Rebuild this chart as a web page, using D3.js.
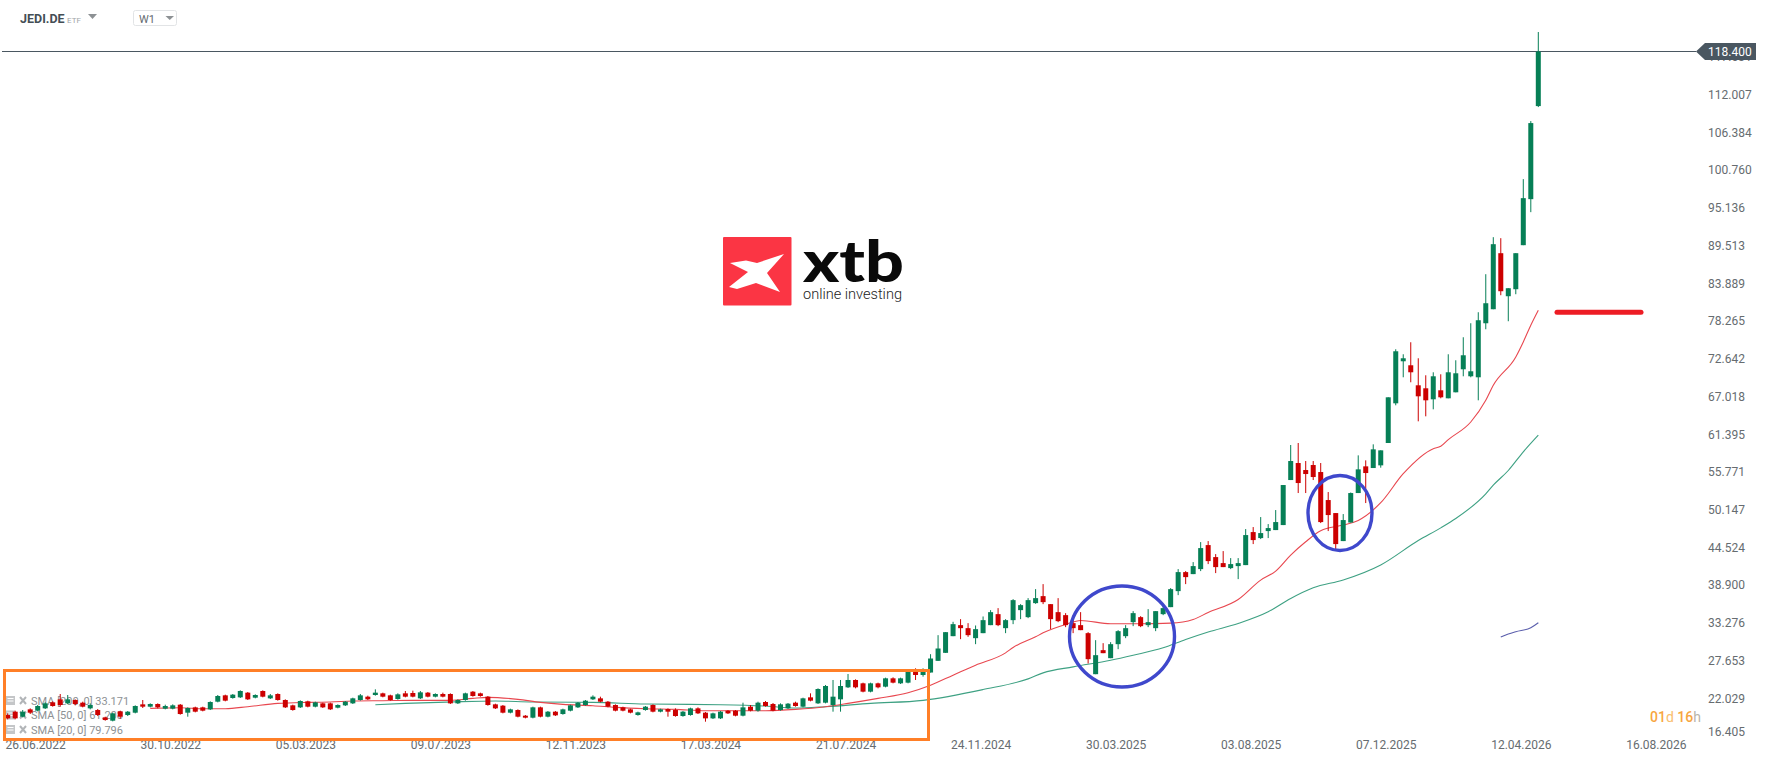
<!DOCTYPE html>
<html><head><meta charset="utf-8">
<script src="https://cdn.jsdelivr.net/npm/d3@7"></script>
<style>
html,body{margin:0;padding:0;background:#fff;overflow:hidden}
svg{display:block}
text{font-family:Roboto,"Noto Sans",sans-serif}
</style></head><body>
<script>
const symbol="JEDI.DE", symbolType="ETF", interval="W1";
const firstWeek="2022-06-05", lastWeek="2026-05-03";
const opens=[18.95,19.45,18.7,19.8,19.6,19.95,20.85,21.3,20.7,21.2,20.8,19.95,19.7,18.6,18.1,19.5,18.95,19.3,20.55,20.2,20.6,19.9,19.9,20.5,19.3,20.1,20.1,19.8,20.95,21.9,21.5,21.6,22.3,21.55,22.55,21.45,22.1,21.2,20.4,20.1,21,20.2,20.7,20.7,20.05,20.4,20.7,21.2,21.7,21.95,22.2,21.9,21.35,22.2,22.25,21.45,22.3,21.7,22.1,22.1,20.7,21.2,22.45,22.2,21.7,20.55,20.35,19.3,19.7,18.85,18.55,20.1,18.7,19.45,19.1,19.6,20.1,20.45,21.3,21.45,20.95,20.45,20.1,19.8,18.95,19.7,20.45,19.45,19.85,19.7,18.8,18.95,19.95,19.3,18.45,18.45,19.6,19.6,18.85,20.2,19.6,20.9,20.6,19.7,19.95,20.8,20.2,21.6,20.7,20.8,20.45,21.3,23.1,24.2,23.7,22.45,23.7,23.2,24.45,23.7,23.8,25.45,24.95,25.32,27.07,28.27,30.77,32.42,31.97,30.47,31.22,32.42,34.07,31.97,33.17,34.67,33.62,35.72,36.77,35.57,34.37,33.92,32.72,32.42,31.22,25.07,28.67,27.47,29.57,30.77,32.87,33.62,32.42,31.97,34.07,35.12,37.52,40.37,40.07,40.82,44.42,42.62,41.72,40.97,41.27,41.42,46.37,45.47,46.52,46.67,47.42,54.17,56.72,55.67,56.42,55.37,51.17,49.22,45.02,47.8,52.22,56.22,55.97,56.37,59.72,65.67,71.97,71.37,68.37,67.92,66.27,67.62,66.42,67.32,70.77,69.72,69.57,77.67,79.77,88.17,81.72,82.77,89.37,96.27,110.22];
const closes=[18.45,18.45,19.45,19.3,20.3,20.7,20.3,20.45,21.3,20.6,20.2,20.45,18.95,18.2,19.2,18.7,19.45,20.3,20.2,20.6,20.1,20.3,20.4,19.1,20,19.45,19.6,20.9,21.8,21.1,22,22.55,21.3,21.95,21.7,21.9,21.2,20.1,19.7,21.05,20.2,20.85,20.1,19.8,20.45,20.95,21.45,21.9,21.3,22.3,21.7,21.2,22.05,21.7,21.7,22.35,21.7,22.1,21.7,20.7,21.2,22.2,21.8,21.8,20.45,19.95,19.3,19.8,18.7,18.55,20.1,18.7,19.45,18.9,19.8,20.4,20.8,21.1,21.7,20.95,20.2,19.6,19.6,19.3,19.35,20.2,19.45,19.8,19.45,18.8,19.45,19.95,19.2,18.45,19.2,19.45,19.2,18.85,20.1,19.6,20.8,20.3,19.6,20.55,20.65,20.3,21.45,21.1,22.85,23.3,21.7,23.3,24.2,23.1,22.45,23.7,23.1,24.45,23.8,24.45,25.45,24.95,25.45,27.42,28.92,31.37,32.57,31.97,30.92,31.82,33.17,34.37,32.42,33.17,36.17,35.42,36.17,36.47,35.87,33.32,33.02,32.42,31.97,31.67,27.32,27.92,28.22,29.57,31.52,31.97,34.22,32.27,32.87,34.52,34.97,37.82,40.37,39.62,41.27,43.97,42.02,41.12,41.12,41.57,41.72,45.92,45.17,46.22,46.97,47.87,53.42,57.02,53.72,55.07,54.62,47.87,48.92,44.57,48.17,52.22,55.77,55.22,58.77,58.62,66.57,73.47,72.42,70.32,66.72,66.12,69.72,66.57,70.32,70.17,72.87,70.47,78.12,80.67,89.52,82.47,82.92,88.17,96.42,107.67,118.4];
const highs=[19.2,19.6,19.7,19.95,20.45,20.85,21,22.1,21.95,21.3,20.95,20.7,19.85,18.7,19.3,19.6,19.55,20.4,21.2,20.7,20.7,20.5,20.55,20.6,20.1,20.2,20.2,21,21.95,22,22.1,22.65,22.4,22.05,22.65,22.1,22.2,21.3,20.5,21.15,21.1,20.95,20.8,20.8,20.55,21.05,21.55,22.1,21.85,22.8,22.3,22,22.2,22.55,22.6,22.55,22.4,22.2,22.3,22.2,21.3,22.3,22.55,22.3,21.8,20.65,20.45,19.9,19.8,18.95,20.2,20.2,19.55,19.55,19.9,20.5,20.9,21.2,21.9,21.7,21.05,20.55,20.2,19.9,19.45,20.3,20.55,19.9,19.95,19.95,19.55,20.05,20.1,19.4,19.3,19.55,19.7,19.7,20.8,20.45,20.95,21.05,20.75,20.7,20.75,20.95,21.55,22.2,22.95,23.45,24.2,24.2,25.1,24.3,23.8,23.8,23.8,24.55,24.6,24.55,25.55,25.95,25.95,28.07,30.92,31.37,32.92,33.32,32.72,32.37,33.72,34.67,34.97,33.32,36.32,35.57,36.47,37.82,38.57,35.57,36.47,34.22,33.92,34.37,31.37,30.17,29.72,29.87,31.67,32.42,34.52,33.77,34.82,34.52,35.57,37.97,40.82,40.52,41.87,44.87,45.02,43.07,43.52,42.47,42.47,46.82,47.12,48.62,47.57,49.67,53.42,59.42,59.72,57.02,57.02,56.72,52.37,49.22,49.07,52.3,57.87,57.12,59.52,58.62,66.57,73.77,73.02,74.82,72.42,69.87,70.32,70.02,73.02,72.12,75.57,77.67,79.32,85.02,90.57,90.42,82.92,88.17,99.27,107.97,121.32];
const lows=[18.3,18.3,18.6,19.1,19.5,19.85,20.2,20.2,20.6,20.4,20.1,19.8,18.8,18.1,18,18.4,18.8,19.2,20,20.1,19.95,19.8,19.8,19,18.7,19.35,19.5,19.7,20.85,21,21.4,21.5,21.2,21.45,21.6,21.35,21.1,20,19.6,20,20.1,20.1,20,19.7,19.95,20.3,20.6,21.1,21.2,21.85,21.6,21.1,21.25,21.6,21.6,21.35,21.6,21.6,21.6,20.6,20.6,21.1,21.7,21.7,20.35,19.85,19.2,19.2,18.6,18.45,18.45,18.6,18.6,18.8,19,19.5,20,20.35,21.2,20.85,20.1,19.5,19.5,19.2,18.85,19.6,19.35,19.35,18.7,18.7,18.7,18.85,19.1,17.95,18.35,18.35,19.1,18.75,18.75,19.5,19.45,20.2,19.5,19.6,19.85,20.2,20.1,21,20.6,20.7,19.45,19.45,23,22.95,22.35,22.35,22.95,23.1,23.7,23.6,23.7,24.2,24.7,25.32,27.07,28.27,30.77,30.32,30.67,29.57,31.22,32.42,32.27,31.22,32.57,33.32,33.47,35.62,35.57,31.82,32.87,32.12,31.22,31.67,26.67,25.07,28.22,27.47,28.82,30.47,32.27,32.12,32.12,31.52,33.92,35.12,36.92,38.57,40.07,40.52,41.57,40.22,41.12,40.82,39.32,41.42,44.57,45.32,45.47,46.67,47.42,54.17,52.22,52.22,54.17,47.72,46.52,43.67,45.02,47.8,52.22,50.72,55.97,56.02,59.72,65.37,69.57,68.82,62.97,63.72,64.77,66.42,66.42,67.32,69.72,69.57,66.12,76.77,79.77,81.87,77.97,82.02,89.37,94.32,110.07];

const sma20Index=[19,23,26,29,32,36,40,43,46,50,54,59,62,64,68,71,74,78,81,85,89,93,97,101,105,109,112,116,120,123,126,129,133,134,137,138,141,143,147,151,155,158,160,164,167,169,171,173,175,178,180,183,186,190,191,192,195,197,198,201,202,203,204];
const sma20Value=[19.95,20.05,19.9,19.9,20.2,20.7,20.85,20.9,21.05,21.1,21.15,21.15,21.45,21.6,21.3,20.85,20.55,20.35,20.1,19.9,19.8,19.6,19.6,19.6,19.8,20.2,20.7,21.45,22.3,23.42,24.92,26.42,28.27,29.07,30.67,31.27,32.52,33.12,32.62,32.62,32.72,33.27,34.32,36.27,39.17,40.52,42.92,44.92,46.57,47.42,48.12,50.77,55.12,58.87,59.22,60.22,62.87,66.12,68.37,72.62,74.87,77.37,79.62];
const sma50Index=[49,53,59,65,70,78,85,95,101,105,109,115,122,130,136,138,142,147,150,154,157,160,164,168,171,174,178,183,188,191,193,197,198,200,202,204];
const sma50Value=[20.5,20.7,20.9,21.05,20.9,20.85,20.6,20.5,20.3,20,20.2,20.7,21.15,22.77,24.37,25.27,26.17,27.17,27.92,29.02,30.27,31.4,32.67,34.42,36.42,38.02,39.19,41.44,45.1,47,48.4,52.1,53.4,55.6,58.4,60.9];
const sma200Index=[199,200,201,203,204];
const sma200Value=[30.65,31.09,31.44,32.04,32.79];

const priceTicks=[16.405,22.029,27.653,33.276,38.900,44.524,50.147,55.771,61.395,67.018,72.642,78.265,83.889,89.513,95.136,100.760,106.384,112.007,117.631];
const lastPrice=118.4;
const dateTicks=["2022-06-26","2022-10-30","2023-03-05","2023-07-09","2023-11-12","2024-03-17","2024-07-21","2024-11-24","2025-03-30","2025-08-03","2025-12-07","2026-04-12","2026-08-16"];
const legendLabels=["SMA [200, 0] 33.171","SMA [50, 0] 61.208","SMA [20, 0] 79.796"];

const W=1768,H=761;
const svg=d3.select("body").append("svg").attr("width",W).attr("height",H);
const parse=d3.utcParse("%Y-%m-%d"), fmtDate=d3.utcFormat("%d.%m.%Y");
const x=d3.scaleUtc().domain([parse(firstWeek),parse(lastWeek)]).range([7.7,1538.3]);
const y=d3.scaleLinear().domain([16.405,118.4]).range([732,51.5]);
const yLabels=d3.scaleLinear().domain([16.405,118.4]).range([736,51.8]);
const xi=i=>x(d3.utcWeek.offset(parse(firstWeek),i));
const UP="#067f56", DOWN="#cc0000";

// axes
const xAxis=d3.axisBottom(x).tickValues(dateTicks.map(parse)).tickFormat(fmtDate).tickSize(0).tickPadding(2);
const gx=svg.append("g").attr("transform","translate(5,738)").call(xAxis);
const yAxis=d3.axisRight(yLabels).tickValues(priceTicks).tickFormat(d3.format(".3f")).tickSize(0).tickPadding(0);
const gy=svg.append("g").attr("transform","translate(1708,0)").call(yAxis);
gy.selectAll(".tick").filter(d=>d===priceTicks[0]).attr("transform","translate(0,732)");
[gx,gy].forEach(g=>{g.select(".domain").remove();g.selectAll("text").attr("fill","#666c70").style("font-size","12px").style("font-family","Roboto");});

// legend (sits under the candles)
const lg=svg.append("g").selectAll("g").data(legendLabels).join("g")
  .attr("transform",(d,i)=>`translate(0,${[700.5,715,729.5][i]})`);
lg.append("rect").attr("x",6).attr("y",-4.5).attr("width",9).attr("height",9).attr("fill","#c4c6c8");
lg.append("path").attr("d","M7.5 -2H13.5M7.5 0.5H13.5").attr("stroke","#fff").attr("stroke-width",1);
lg.append("path").attr("d","M20 -3.5L26 3.5M26 -3.5L20 3.5").attr("stroke","#b2b5b8").attr("stroke-width",2);
lg.append("text").attr("x",31).attr("y",4).attr("fill","#8d9194").style("font-size","11px").text(d=>d);

// price line
svg.append("line").attr("x1",2).attr("x2",1696).attr("y1",y(lastPrice)).attr("y2",y(lastPrice)).attr("stroke","#4a5761").attr("stroke-width",1);

// moving averages
const lineFor=(idx,val)=>d3.line().curve(d3.curveMonotoneX).x((d,i)=>xi(idx[i])).y(d=>y(d))(val);
[[sma200Index,sma200Value,"#5a5eac"],[sma50Index,sma50Value,"#3ea183"],[sma20Index,sma20Value,"#e8474f"]].forEach(([a,b,c])=>
  svg.append("path").attr("d",lineFor(a,b)).attr("fill","none").attr("stroke",c).attr("stroke-width",1.1));

// candles
const candles=opens.map((o,i)=>({i,o,c:closes[i],h:highs[i],l:lows[i]}));
const cg=svg.append("g").selectAll("g").data(candles).join("g");
cg.append("line").attr("x1",d=>xi(d.i)).attr("x2",d=>xi(d.i)).attr("y1",d=>y(d.h)).attr("y2",d=>y(d.l))
  .attr("stroke",d=>d.c>=d.o?UP:DOWN).attr("stroke-width",1);
cg.append("rect").attr("x",d=>xi(d.i)-2.5).attr("width",5)
  .attr("y",d=>y(Math.max(d.o,d.c))).attr("height",d=>Math.max(1,Math.abs(y(d.o)-y(d.c))))
  .attr("fill",d=>d.c>=d.o?UP:DOWN);

// last price tag
const ty=y(lastPrice);
svg.append("path").attr("d",`M1696 ${ty}L1705 ${ty-8.5}H1756V${ty+8.5}H1705Z`).attr("fill","#4a5761");
svg.append("text").attr("x",1708).attr("y",ty+4.5).attr("fill","#fff").style("font-size","12px").text(d3.format(".3f")(lastPrice));

// annotations
svg.append("rect").attr("x",4.5).attr("y",670.5).attr("width",924).attr("height",69).attr("fill","none").attr("stroke","#ff7f27").attr("stroke-width",3);
svg.append("ellipse").attr("cx",1122).attr("cy",636.5).attr("rx",52.5).attr("ry",50.5).attr("fill","none").attr("stroke","#3f48cc").attr("stroke-width",3.4);
svg.append("ellipse").attr("cx",1340).attr("cy",513).attr("rx",32).attr("ry",37.5).attr("fill","none").attr("stroke","#3f48cc").attr("stroke-width",3.4);
svg.append("line").attr("x1",1557).attr("x2",1641).attr("y1",312.3).attr("y2",312.3).attr("stroke","#ed1c24").attr("stroke-width",5).attr("stroke-linecap","round");

// logo
const logo=svg.append("g");
logo.append("rect").attr("x",723).attr("y",237).attr("width",68.5).attr("height",68.5).attr("rx",1).attr("fill","#fb3544");
logo.append("path").attr("d","M730 263L746 260.5L757 263L784 254L767 273L780 292L756 283L737 289L729 287L748 272Z").attr("fill","#fff");
logo.append("text").attr("x",803).attr("y",282).attr("fill","#0a0a0a").attr("textLength",101).attr("lengthAdjust","spacingAndGlyphs")
  .style("font-family","Lato,Roboto").style("font-weight",900).style("font-size","58px").text("xtb");
logo.append("text").attr("x",803).attr("y",299).attr("fill","#222").attr("textLength",99).attr("lengthAdjust","spacingAndGlyphs")
  .style("font-family","Roboto").style("font-weight",300).style("font-size","14.5px").text("online investing");

// header
svg.append("text").attr("x",20).attr("y",23).attr("fill","#444e55").style("font-size","12.5px").style("font-weight",700).text(symbol);
svg.append("text").attr("x",67).attr("y",23).attr("fill","#a2a6a9").style("font-size","8px").text(symbolType);
svg.append("path").attr("d","M88 14H97L92.5 19Z").attr("fill","#8d9194");
svg.append("rect").attr("x",133.5).attr("y",10.5).attr("width",43).attr("height",15).attr("rx",2).attr("fill","#fff").attr("stroke","#e2e4e6");
svg.append("text").attr("x",139).attr("y",23).attr("fill","#646b70").style("font-size","11px").text(interval);
svg.append("path").attr("d","M165.5 16H174L169.75 20Z").attr("fill","#8d9194");

// countdown
const cd=svg.append("text").attr("x",1650).attr("y",722).style("font-size","14px");
cd.append("tspan").attr("fill","#f7a63f").attr("font-weight",500).text("01");
cd.append("tspan").attr("fill","#f9bd6e").text("d ");
cd.append("tspan").attr("fill","#f7a63f").attr("font-weight",500).text("16");
cd.append("tspan").attr("fill","#b9b4aa").text("h");
</script>
</body></html>
